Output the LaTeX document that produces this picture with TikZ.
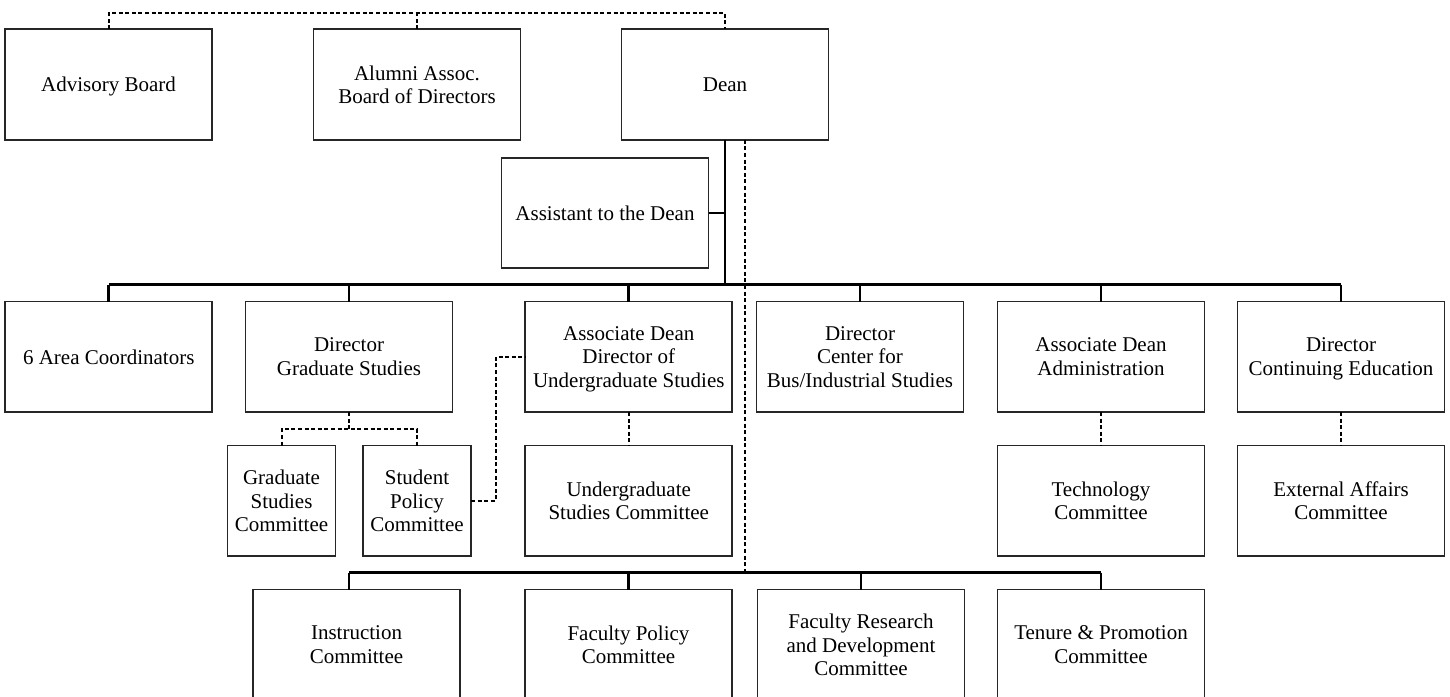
\documentclass[tikz,border=0pt]{standalone}
\usepackage{fontspec}
\setmainfont{Liberation Serif}
\begin{document}
\begin{tikzpicture}[x=0.5pt,y=-0.5pt,
  box/.style={draw=black!85, line width=0.8pt, fill=white, align=center,
    inner sep=0pt, outer sep=0pt, minimum width=103.5pt, minimum height=55.25pt,
    text depth=-0.7pt, font=\fontsize{10.5}{11.75}\selectfont},
  narrowbox/.style={box, minimum width=54pt},
  link/.style={line width=1.3pt},
  dashlink/.style={line width=1pt, dash pattern=on 2pt off 1.3pt}
]
\useasboundingbox (0,0) rectangle (1450,696);
\clip (0,0) rectangle (1450,696);

% top row
\node[box] (adv)  at (108.5,84.5) {Advisory Board};
\node[box] (alum) at (417,84.5)   {Alumni Assoc.\\Board of Directors};
\node[box] (dean) at (725,84.5)   {Dean};
\node[box] (asst) at (605,213)    {Assistant to the Dean};

% directors
\node[box] (area) at (108.75,356.75) {6 Area Coordinators};
\node[box] (dgs)  at (349,356.75)    {Director\\Graduate Studies};
\node[box] (adu)  at (628.75,356.75) {Associate Dean\\Director of\\Undergraduate Studies};
\node[box] (dcb)  at (860,356.75)    {Director\\Center for\\Bus/Industrial Studies};
\node[box] (ada)  at (1101,356.75)   {Associate Dean\\Administration};
\node[box] (dce)  at (1341,356.75)   {Director\\Continuing Education};

% committees under the directors
\node[narrowbox] (gsc) at (281.5,500.75) {Graduate\\Studies\\Committee};
\node[narrowbox] (spc) at (417,500.75)   {Student\\Policy\\Committee};
\node[box] (usc) at (628.75,500.75) {Undergraduate\\Studies Committee};
\node[box] (tc)  at (1101,500.75)   {Technology\\Committee};
\node[box] (eac) at (1341,500.75)   {External Affairs\\Committee};

% faculty committees
\node[box] (ic)  at (356.5,644.75) {Instruction\\Committee};
\node[box] (fpc) at (628.5,644.75) {Faculty Policy\\Committee};
\node[box] (frd) at (861,644.75)   {Faculty Research\\and Development\\Committee};
\node[box] (tpc) at (1101,644.75)  {Tenure \& Promotion\\Committee};

% helper levels
\coordinate (top)  at (0,13);
\coordinate (bus)  at (0,284.5);
\coordinate (bus2) at (0,572.5);
\coordinate (gbus) at (0,429);
\coordinate (icstub) at (349,572.5);
\coordinate (jog) at (496,0);
\coordinate (ddtop) at ([xshift=10pt]dean.south);

% advisory links
\draw[dashlink] (adv.north) -- (adv.north |- top) -- (dean.north |- top) -- (dean.north);
\draw[dashlink] (alum.north) -- (alum.north |- top);

% line of authority
\draw[link] (dean.south) -- (dean.south |- bus);
\draw[link] (asst.east) -- (asst.east -| dean.south);
\draw[link] (area.north |- bus) -- (dce.north |- bus);
\foreach \n in {area,dgs,adu,dcb,ada,dce}
  \draw[link] (\n.north |- bus) -- (\n.north);

% dean to faculty committees
\draw[dashlink] (ddtop) -- (ddtop |- bus2);
\draw[link] (icstub) -- (tpc.north |- bus2);
\draw[link] (icstub) -- (icstub |- ic.north);
\foreach \n in {fpc,frd,tpc}
  \draw[link] (\n.north |- bus2) -- (\n.north);

% committee links
\draw[dashlink] (dgs.south) -- (dgs.south |- gbus);
\draw[dashlink] (gsc.north) -- (gsc.north |- gbus) -- (spc.north |- gbus) -- (spc.north);
\draw[dashlink] (spc.east) -- (spc.east -| jog) -- (jog |- adu.west) -- (adu.west);
\draw[dashlink] (adu.south) -- (usc.north);
\draw[dashlink] (ada.south) -- (tc.north);
\draw[dashlink] (dce.south) -- (eac.north);
\end{tikzpicture}
\end{document}
